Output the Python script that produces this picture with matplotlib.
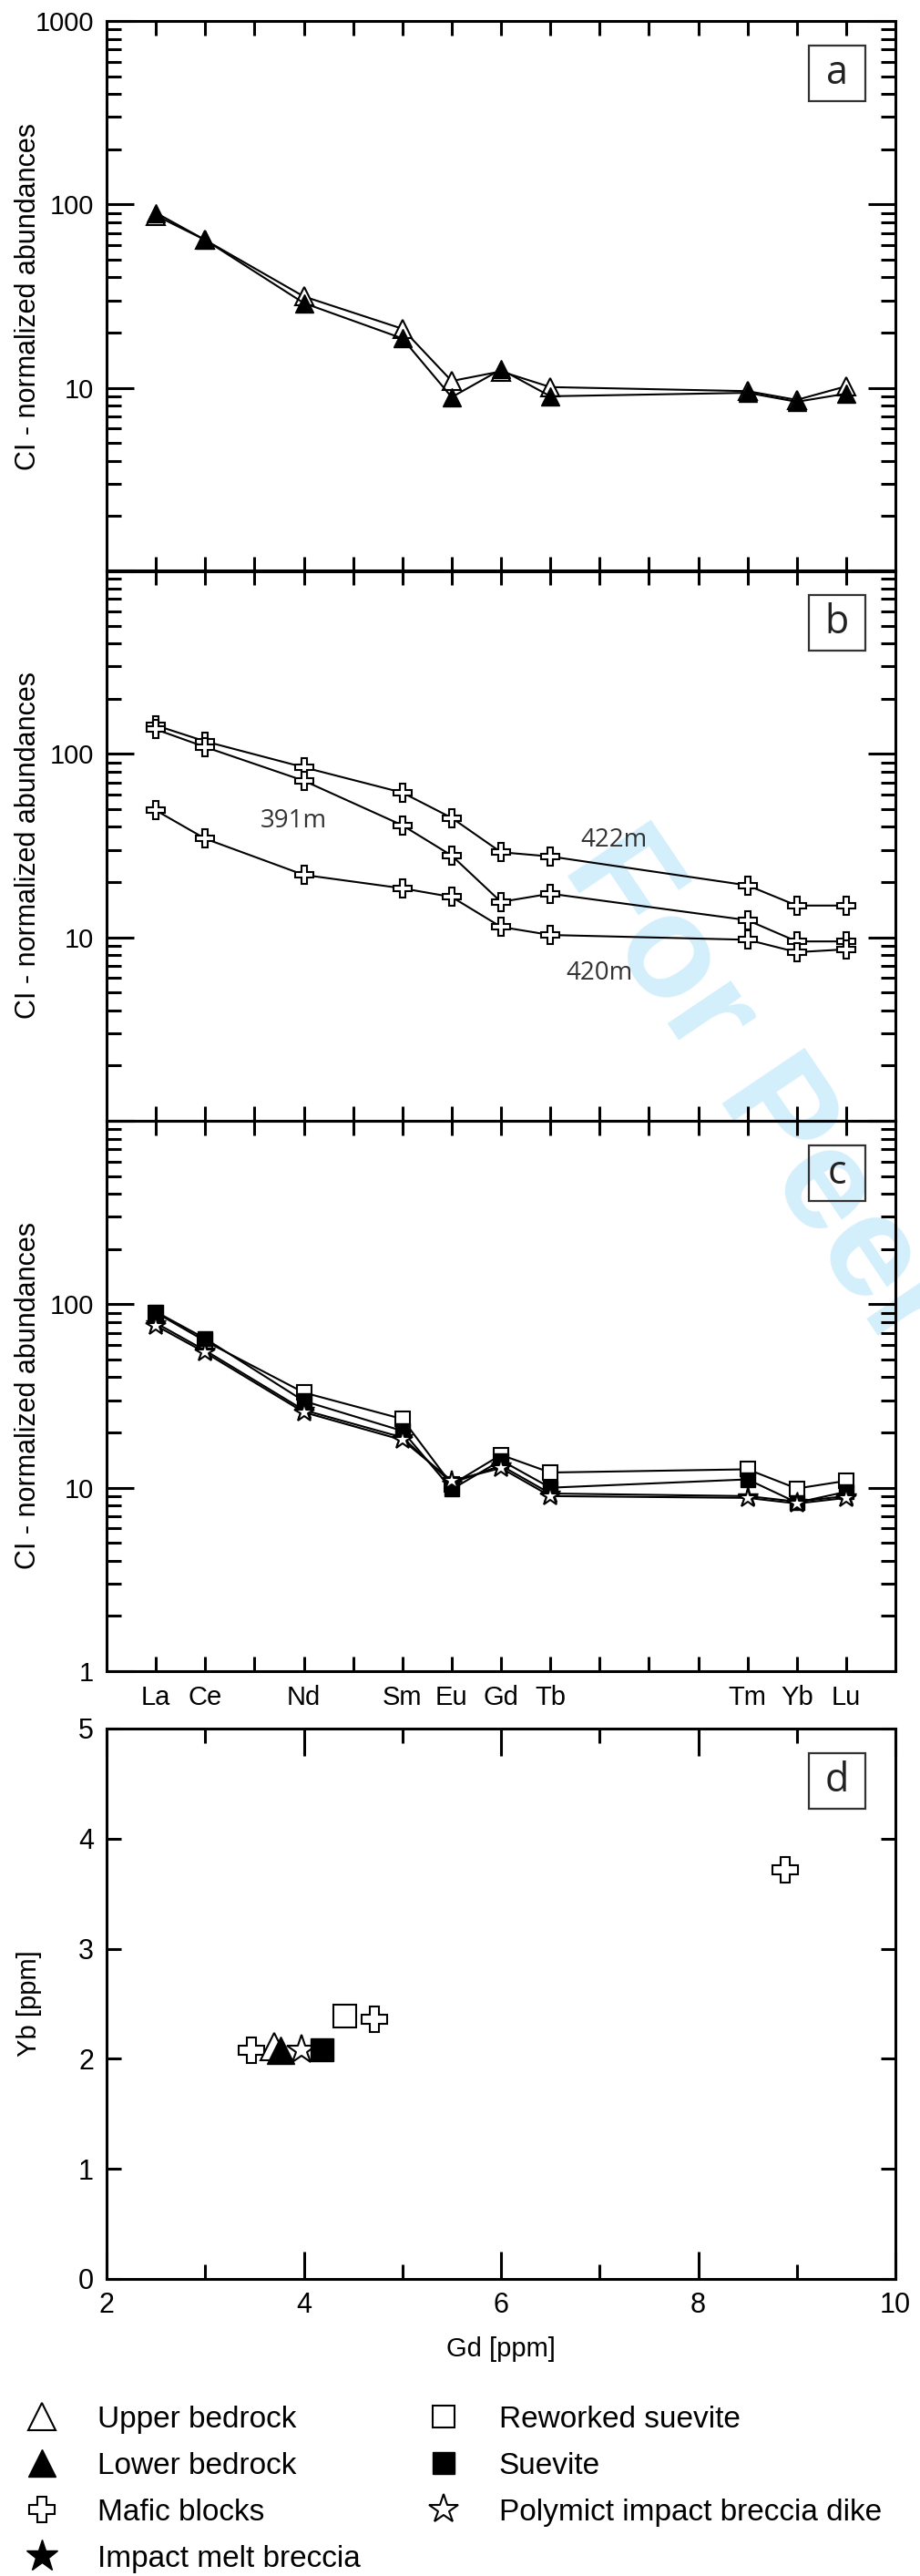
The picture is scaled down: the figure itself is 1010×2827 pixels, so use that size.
import matplotlib
matplotlib.use("Agg")
import matplotlib.pyplot as plt
from matplotlib.lines import Line2D
from matplotlib.patches import Rectangle
from matplotlib.ticker import LogLocator, NullFormatter

plt.rcParams['font.family'] = ['Liberation Sans', 'DejaVu Sans']

# REE order on the x axis (chondrite normalised patterns)
ree_all = ['La', 'Ce', 'Pr', 'Nd', 'Pm', 'Sm', 'Eu', 'Gd', 'Tb', 'Dy', 'Ho', 'Er', 'Tm', 'Yb', 'Lu']
ree_shown = ['La', 'Ce', 'Nd', 'Sm', 'Eu', 'Gd', 'Tb', 'Tm', 'Yb', 'Lu']
ree_x = [ree_all.index(e) + 1 for e in ree_shown]

# panel a - bedrock
upper_bedrock = [87, 64, 31.5, 21, 10.9, 12.3, 10.1, 9.6, 8.6, 10.2]
lower_bedrock = [90, 64, 29, 18.6, 8.9, 12.6, 9.0, 9.4, 8.4, 9.3]

# panel b - mafic blocks
mafic_422m = [143, 117, 84.5, 61.5, 44.8, 29.1, 27.6, 19.2, 14.9, 14.9]
mafic_391m = [136, 109, 71.4, 40.8, 27.9, 15.6, 17.3, 12.4, 9.5, 9.5]
mafic_420m = [49.2, 34.5, 21.9, 18.5, 16.6, 11.4, 10.3, 9.7, 8.3, 8.6]
depth_labels = ['391m', '422m', '420m']
depth_x = [3.8, 10.3, 10.0]
depth_y = [43, 34, 6.4]

# panel c - breccias
reworked_suevite = [90, 63, 33, 23.7, 10.4, 15.1, 12.1, 12.6, 9.9, 10.9]
suevite = [91, 65, 29.7, 20.4, 9.8, 14.1, 10.0, 11.1, 8.3, 9.5]
dike_breccia = [76.5, 54.5, 25.8, 18.2, 10.9, 12.8, 9.0, 8.8, 8.2, 8.8]
melt_breccia = [79, 56, 26.5, 18.8, 10.6, 13.2, 9.3, 9.0, 8.4, 9.0]

# panel d - Gd vs Yb [ppm]
gd_mafic = [3.47, 4.72, 8.88]
yb_mafic = [2.08, 2.36, 3.72]
gd_upper = [3.70]
yb_upper = [2.11]
gd_lower = [3.76]
yb_lower = [2.08]
gd_dike = [3.98]
yb_dike = [2.08]
gd_suevite = [4.18]
yb_suevite = [2.09]
gd_reworked = [4.41]
yb_reworked = [2.39]

W, H = 1010, 2827
fig = plt.figure(figsize=(W / 100, H / 100), dpi=100)

left = 117 / W
width = 866 / W
ph = 604 / H
bottoms = [(H - 627) / H, (H - 1230) / H, (H - 1834) / H]
ylabels_ree = [['', '10', '100', '1000'], ['', '10', '100', ''], ['1', '10', '100', '']]
letters = ['a', 'b', 'c']

spine_w = 2.2
line_w = 1.5
open_kw = dict(mfc='white', mec='black', mew=1.5)
fill_kw = dict(mfc='black', mec='black', mew=1.0)

axes = []
for i in range(3):
    ax = fig.add_axes([left, bottoms[i], width, ph])
    ax.patch.set_alpha(0)
    ax.set_yscale('log')
    ax.set_xlim(0, 16)
    ax.set_ylim(1, 1000)
    ax.set_yticks([1, 10, 100, 1000], ylabels_ree[i])
    ax.yaxis.set_minor_locator(LogLocator(base=10, subs=range(2, 10)))
    ax.yaxis.set_minor_formatter(NullFormatter())
    xl = [e if e in ree_shown else '' for e in ree_all]
    ax.set_xticks(range(1, 16), xl)
    ax.tick_params(axis='y', which='major', direction='in', length=21.5, width=spine_w,
                   left=True, right=True, labelsize=21, pad=10)
    ax.tick_params(axis='y', which='minor', direction='in', length=11.5, width=spine_w,
                   left=True, right=True)
    ax.tick_params(axis='x', which='major', direction='in', length=11.5, width=spine_w,
                   top=True, bottom=True, labelsize=21, pad=11, labelbottom=(i == 2))
    ax.tick_params(axis='x', which='minor', top=False, bottom=False)
    for s in ax.spines.values():
        s.set_linewidth(spine_w)
    ax.set_ylabel('CI - normalized abundances', fontsize=22)
    ax.yaxis.set_label_coords(-0.082, 0.5)
    axes.append(ax)

ax_a, ax_b, ax_c = axes

ax_a.plot(ree_x, upper_bedrock, '-^', color='black', lw=line_w, ms=15, **open_kw)
ax_a.plot(ree_x, lower_bedrock, '-^', color='black', lw=line_w, ms=15, **fill_kw)

for vals in [mafic_422m, mafic_391m, mafic_420m]:
    ax_b.plot(ree_x, vals, '-P', color='black', lw=line_w, ms=14, **open_kw)
for t, x, y in zip(depth_labels, depth_x, depth_y):
    ax_b.text(x, y, t, fontsize=20, color='#333333', family=['Open Sans', 'DejaVu Sans'],
              ha='center', va='center')

ax_c.plot(ree_x, reworked_suevite, '-s', color='black', lw=line_w, ms=12, **open_kw)
ax_c.plot(ree_x, suevite, '-s', color='black', lw=line_w, ms=12, **fill_kw)
ax_c.plot(ree_x, melt_breccia, '-*', color='black', lw=line_w, ms=16, **fill_kw)
ax_c.plot(ree_x, dike_breccia, '-*', color='black', lw=line_w, ms=16, **open_kw)

# panel d
ax_d = fig.add_axes([left, (H - 2501) / H, width, ph])
ax_d.patch.set_alpha(0)
ax_d.set_xlim(2, 10)
ax_d.set_ylim(0, 5)
ax_d.set_xticks([2, 4, 6, 8, 10])
ax_d.set_xticks([3, 5, 7, 9], minor=True)
ax_d.set_yticks([0, 1, 2, 3, 4, 5])
ax_d.tick_params(axis='x', which='major', direction='in', length=21.5, width=spine_w,
                 top=True, bottom=True, labelsize=22, pad=10)
ax_d.tick_params(axis='x', which='minor', direction='in', length=11.5, width=spine_w,
                 top=True, bottom=True)
ax_d.tick_params(axis='y', which='major', direction='in', length=11.5, width=spine_w,
                 left=True, right=True, labelsize=22, pad=10)
for s in ax_d.spines.values():
    s.set_linewidth(spine_w)
ax_d.set_xlabel('Gd [ppm]', fontsize=21, labelpad=14)
ax_d.set_ylabel('Yb [ppm]', fontsize=21)
ax_d.yaxis.set_label_coords(-0.082, 0.5)

ax_d.plot(gd_mafic, yb_mafic, 'P', ms=20, ls='none', **open_kw)
ax_d.plot(gd_upper, yb_upper, '^', ms=22, ls='none', **open_kw)
ax_d.plot(gd_lower, yb_lower, '^', ms=22, ls='none', **fill_kw)
ax_d.plot(gd_dike, yb_dike, '*', ms=24, ls='none', **open_kw)
ax_d.plot(gd_suevite, yb_suevite, 's', ms=18, ls='none', **fill_kw)
ax_d.plot(gd_reworked, yb_reworked, 's', ms=18, ls='none', **open_kw)

# boxed panel letters
for ax, t in zip(axes + [ax_d], letters + ['d']):
    bw, bh = 62 / 866, 61 / 604
    cx, cy = 0.926, 0.905
    ax.add_patch(Rectangle((cx - bw / 2, cy - bh / 2), bw, bh, transform=ax.transAxes,
                           fill=False, lw=1.6, ec='#333333', zorder=5))
    ax.text(cx, cy, t, transform=ax.transAxes, ha='center', va='center', fontsize=31,
            color='#222222', family=['Open Sans', 'DejaVu Sans'], zorder=5)

# watermark
fig.text(617 / W, 1 - 952 / H, 'For Peer Review', rotation=-56, color='#d3effb',
         fontsize=115, fontweight='bold', ha='left', va='baseline', zorder=-1,
         rotation_mode='anchor')

# legend in two columns
def handle(marker, ms, kw):
    return Line2D([], [], marker=marker, ls='none', ms=ms, **kw)

col1 = [handle('^', 22, open_kw), handle('^', 22, fill_kw),
        handle('P', 20, open_kw), handle('*', 26, fill_kw)]
lab1 = ['Upper bedrock', 'Lower bedrock', 'Mafic blocks', 'Impact melt breccia']
col2 = [handle('s', 17, open_kw), handle('s', 17, fill_kw), handle('*', 24, open_kw)]
lab2 = ['Reworked suevite', 'Suevite', 'Polymict impact breccia dike']

leg_kw = dict(frameon=False, fontsize=24, handlelength=1.6, handletextpad=1.03,
              labelspacing=0.6, borderpad=0, borderaxespad=0, loc='upper left')
fig.legend(col1, lab1, bbox_to_anchor=(19 / W, 1 - 2640 / H), **leg_kw)
fig.legend(col2, lab2, bbox_to_anchor=(460 / W, 1 - 2640 / H), **leg_kw)

fig.savefig('out.png', dpi=100)
